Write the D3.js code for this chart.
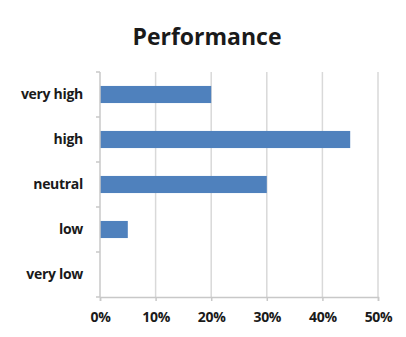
<!DOCTYPE html>
<html>
<head>
<meta charset="utf-8">
<script src="https://cdn.jsdelivr.net/npm/d3@7"></script>
<style>
  html, body { margin: 0; padding: 0; background: #fff; }
  svg { display: block; }
  text { font-family: "Open Sans", "DejaVu Sans", sans-serif; fill: #1a1a1a; }
</style>
</head>
<body>
<svg id="chart" width="406" height="337"></svg>
<script>
// Survey ratings, top to bottom
const categories = ["very high", "high", "neutral", "low", "very low"];
const shares = [0.20, 0.45, 0.30, 0.05, 0.00];
const tickValues = [0, 0.1, 0.2, 0.3, 0.4, 0.5];
const title = "Performance";

const svg = d3.select("#chart");
const margin = { left: 100, right: 28, top: 72, bottom: 40 };
const width = 406, height = 337;
const plotW = width - margin.left - margin.right;
const plotH = height - margin.top - margin.bottom;

const x = d3.scaleLinear().domain([0, 0.5]).range([0, plotW]);
const y = d3.scaleBand().domain(categories).range([0, plotH]).paddingInner(0.62).paddingOuter(0.31);
const yBand = d3.scaleBand().domain(categories).range([0, plotH]);

const g = svg.append("g").attr("transform", `translate(${margin.left},${margin.top})`);

// Vertical gridlines
g.selectAll("line.grid").data(tickValues.slice(1)).join("line")
  .attr("class", "grid")
  .attr("x1", d => x(d)).attr("x2", d => x(d))
  .attr("y1", 0).attr("y2", plotH)
  .attr("stroke", "#d9d9d9").attr("stroke-width", 1.5);

// Bars
g.selectAll("rect.bar").data(categories).join("rect")
  .attr("class", "bar")
  .attr("x", 0)
  .attr("y", d => y(d))
  .attr("width", (d, i) => x(shares[i]))
  .attr("height", y.bandwidth())
  .attr("fill", "#4f81bd");

// Category axis (left)
const yAxis = g.append("g").call(
  d3.axisLeft(yBand).tickSize(0).tickPadding(17)
);
yAxis.select(".domain").remove();
yAxis.selectAll("text")
  .attr("font-size", 14).attr("font-weight", "bold")
  .attr("letter-spacing", -0.3)
  .style("font-family", '"Open Sans", sans-serif');

// Left axis line with boundary ticks
const bounds = d3.range(categories.length + 1).map(i => i * yBand.step());
g.append("line").attr("x1", 0).attr("x2", 0).attr("y1", 0).attr("y2", plotH)
  .attr("stroke", "#c8c8c8").attr("stroke-width", 1.5);
g.selectAll("line.ytick").data(bounds).join("line")
  .attr("class", "ytick")
  .attr("x1", -4).attr("x2", 0)
  .attr("y1", d => d).attr("y2", d => d)
  .attr("stroke", "#c8c8c8").attr("stroke-width", 1.5);

// Value axis (bottom)
const xAxis = g.append("g").attr("transform", `translate(0,${plotH})`).call(
  d3.axisBottom(x).tickValues(tickValues).tickFormat(d3.format(".0%")).tickSize(4).tickPadding(11)
);
xAxis.select(".domain").attr("stroke", "#c8c8c8").attr("stroke-width", 1.5);
xAxis.selectAll(".tick line").attr("stroke", "#c8c8c8").attr("stroke-width", 1.5);
xAxis.selectAll("text")
  .attr("font-size", 14).attr("font-weight", "bold")
  .attr("letter-spacing", -0.3)
  .style("font-family", '"Open Sans", sans-serif');

// Title
svg.append("text")
  .attr("x", 207).attr("y", 45)
  .attr("text-anchor", "middle")
  .attr("font-size", 23).attr("font-weight", "bold")
  .text(title);
</script>
</body>
</html>
